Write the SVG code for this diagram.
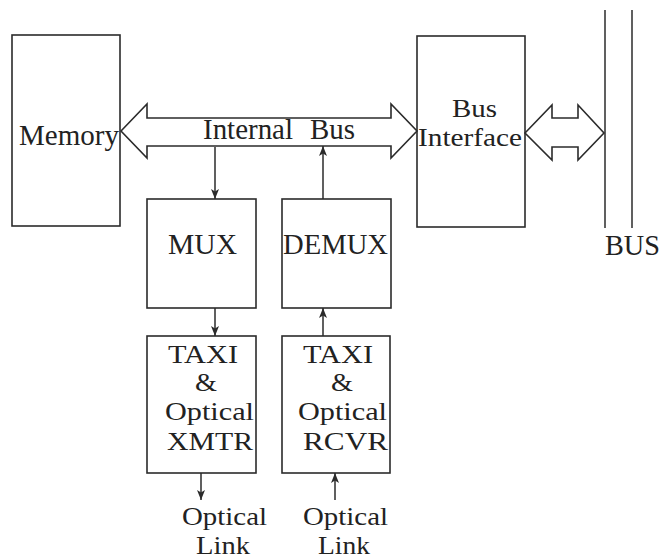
<svg xmlns="http://www.w3.org/2000/svg" width="663" height="560" viewBox="0 0 663 560">
  <style>
    .box { fill: none; stroke: #2b2b2b; stroke-width: 1.6; }
    .wire { fill: none; stroke: #2b2b2b; stroke-width: 1.5; }
    .fat { fill: #fff; stroke: #2b2b2b; stroke-width: 1.6; stroke-linejoin: miter; }
    text { font-family: 'Liberation Serif', 'DejaVu Serif', serif; font-size: 29px; fill: #222; }
    .s { font-size: 26px; }
  </style>
  <defs>
    <marker id="head" viewBox="0 0 10 8" refX="10" refY="4" markerWidth="10" markerHeight="8" markerUnits="userSpaceOnUse" orient="auto">
      <path d="M0,0 L10,4 L0,8 L2.5,4 z" fill="#2b2b2b"/>
    </marker>
  </defs>
  <rect width="663" height="560" fill="#fff"/>

  <g id="memory">
    <rect class="box" x="12" y="35" width="108" height="191"/>
    <text x="19" y="145" textLength="100" lengthAdjust="spacingAndGlyphs">Memory</text>
  </g>

  <g id="bus-interface">
    <rect class="box" x="417" y="36" width="108" height="191"/>
    <text class="s" x="452" y="117" textLength="45" lengthAdjust="spacingAndGlyphs">Bus</text>
    <text class="s" x="418" y="146" textLength="104" lengthAdjust="spacingAndGlyphs">Interface</text>
  </g>

  <g id="system-bus">
    <line class="wire" x1="605" y1="10" x2="605" y2="228"/>
    <line class="wire" x1="632" y1="10" x2="632" y2="228"/>
    <text x="605" y="255" textLength="55" lengthAdjust="spacingAndGlyphs">BUS</text>
  </g>

  <g id="mux">
    <rect class="box" x="147" y="199" width="109" height="109"/>
    <text x="168" y="254" textLength="69" lengthAdjust="spacingAndGlyphs">MUX</text>
  </g>

  <g id="demux">
    <rect class="box" x="282" y="199" width="109" height="109"/>
    <text x="283" y="254" textLength="105" lengthAdjust="spacingAndGlyphs">DEMUX</text>
  </g>

  <g id="xmtr">
    <rect class="box" x="147" y="336" width="109" height="137"/>
    <text class="s" x="168" y="363" textLength="70" lengthAdjust="spacingAndGlyphs">TAXI</text>
    <text class="s" x="195" y="391" textLength="22" lengthAdjust="spacingAndGlyphs">&amp;</text>
    <text class="s" x="165" y="420" textLength="89" lengthAdjust="spacingAndGlyphs">Optical</text>
    <text class="s" x="167" y="450" textLength="86" lengthAdjust="spacingAndGlyphs">XMTR</text>
  </g>

  <g id="rcvr">
    <rect class="box" x="282" y="336" width="108" height="137"/>
    <text class="s" x="303" y="363" textLength="70" lengthAdjust="spacingAndGlyphs">TAXI</text>
    <text class="s" x="331" y="391" textLength="22" lengthAdjust="spacingAndGlyphs">&amp;</text>
    <text class="s" x="298" y="420" textLength="89" lengthAdjust="spacingAndGlyphs">Optical</text>
    <text class="s" x="303" y="450" textLength="85" lengthAdjust="spacingAndGlyphs">RCVR</text>
  </g>

  <g id="link-out">
    <text class="s" x="182" y="525" textLength="85" lengthAdjust="spacingAndGlyphs">Optical</text>
    <text class="s" x="196" y="554" textLength="54" lengthAdjust="spacingAndGlyphs">Link</text>
  </g>

  <g id="link-in">
    <text class="s" x="303" y="525" textLength="85" lengthAdjust="spacingAndGlyphs">Optical</text>
    <text class="s" x="318" y="554" textLength="52" lengthAdjust="spacingAndGlyphs">Link</text>
  </g>

  <g id="connectors">
    <!-- internal bus: wide two-headed arrow -->
    <polygon class="fat" points="121,131 147,104 147,118 391,118 391,104 417,131 391,158 391,146 147,146 147,158"/>
    <text x="203" y="139" textLength="90" lengthAdjust="spacingAndGlyphs">Internal</text>
    <text x="310" y="139" textLength="45" lengthAdjust="spacingAndGlyphs">Bus</text>
    <!-- interface to system bus -->
    <polygon class="fat" points="525,133 552,105 552,118 578,118 578,105 604,133 578,160 578,147 552,147 552,160"/>
    <!-- data path arrows -->
    <line class="wire" x1="215" y1="147" x2="215" y2="199" marker-end="url(#head)"/>
    <line class="wire" x1="323" y1="199" x2="323" y2="146" marker-end="url(#head)"/>
    <line class="wire" x1="215" y1="308" x2="215" y2="336" marker-end="url(#head)"/>
    <line class="wire" x1="323" y1="336" x2="323" y2="308" marker-end="url(#head)"/>
    <line class="wire" x1="201" y1="473" x2="201" y2="500" marker-end="url(#head)"/>
    <line class="wire" x1="335" y1="500" x2="335" y2="473" marker-end="url(#head)"/>
  </g>
</svg>
